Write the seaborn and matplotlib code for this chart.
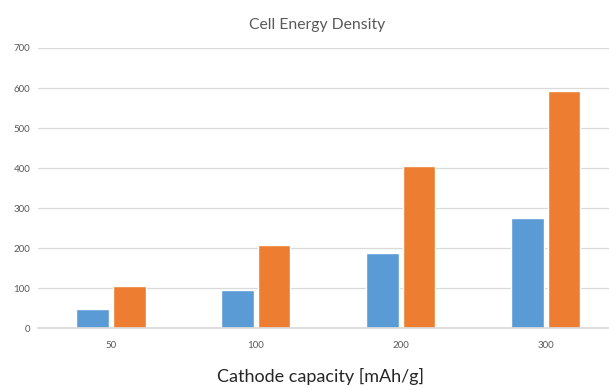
import matplotlib
matplotlib.use("Agg")
import matplotlib.pyplot as plt
import seaborn as sns
import pandas as pd

categories = ["50", "100", "200", "300"]
series1 = [48, 95, 187, 275]
series2 = [105, 207, 404, 592]
series_names = ["Series1", "Series2"]
colors = ["#5B9BD5", "#ED7D31"]
yticks = [0, 100, 200, 300, 400, 500, 600, 700]

df = pd.DataFrame({
    "cat": categories * 2,
    "val": series1 + series2,
    "series": [series_names[0]] * len(categories) + [series_names[1]] * len(categories),
})

sns.set_theme(style="white")
plt.rcParams["font.family"] = ["Lato", "DejaVu Sans"]

fig = plt.figure(figsize=(6.09, 3.87), dpi=100)
ax = fig.add_axes([0.0632, 0.152, 0.952, 0.724])

sns.barplot(data=df, x="cat", y="val", hue="series", order=categories,
            hue_order=series_names, palette=colors, width=0.505, gap=0.11,
            legend=False, ax=ax, saturation=1)

ax.set_ylim(0, 700)
ax.set_yticks(yticks)
ax.set_xlim(-0.5, len(categories) - 0.5)
ax.yaxis.grid(True, color="#D9D9D9", linewidth=0.9)
ax.set_axisbelow(True)
for s in ["top", "right", "left"]:
    ax.spines[s].set_visible(False)
ax.spines["bottom"].set_color("#D9D9D9")
ax.tick_params(axis="both", length=0, labelsize=7, colors="#595959", pad=6)
ax.tick_params(axis="x", pad=9)
ax.set_ylabel("")
ax.set_xlabel("")
fig.text(0.527, 0.028, "Cathode capacity [mAh/g]", ha="center", va="center",
         fontsize=13, color="#262626")
fig.text(0.52, 0.935, "Cell Energy Density", ha="center", va="center",
         fontsize=11.3, color="#595959")

fig.savefig("out.png", dpi=100)
